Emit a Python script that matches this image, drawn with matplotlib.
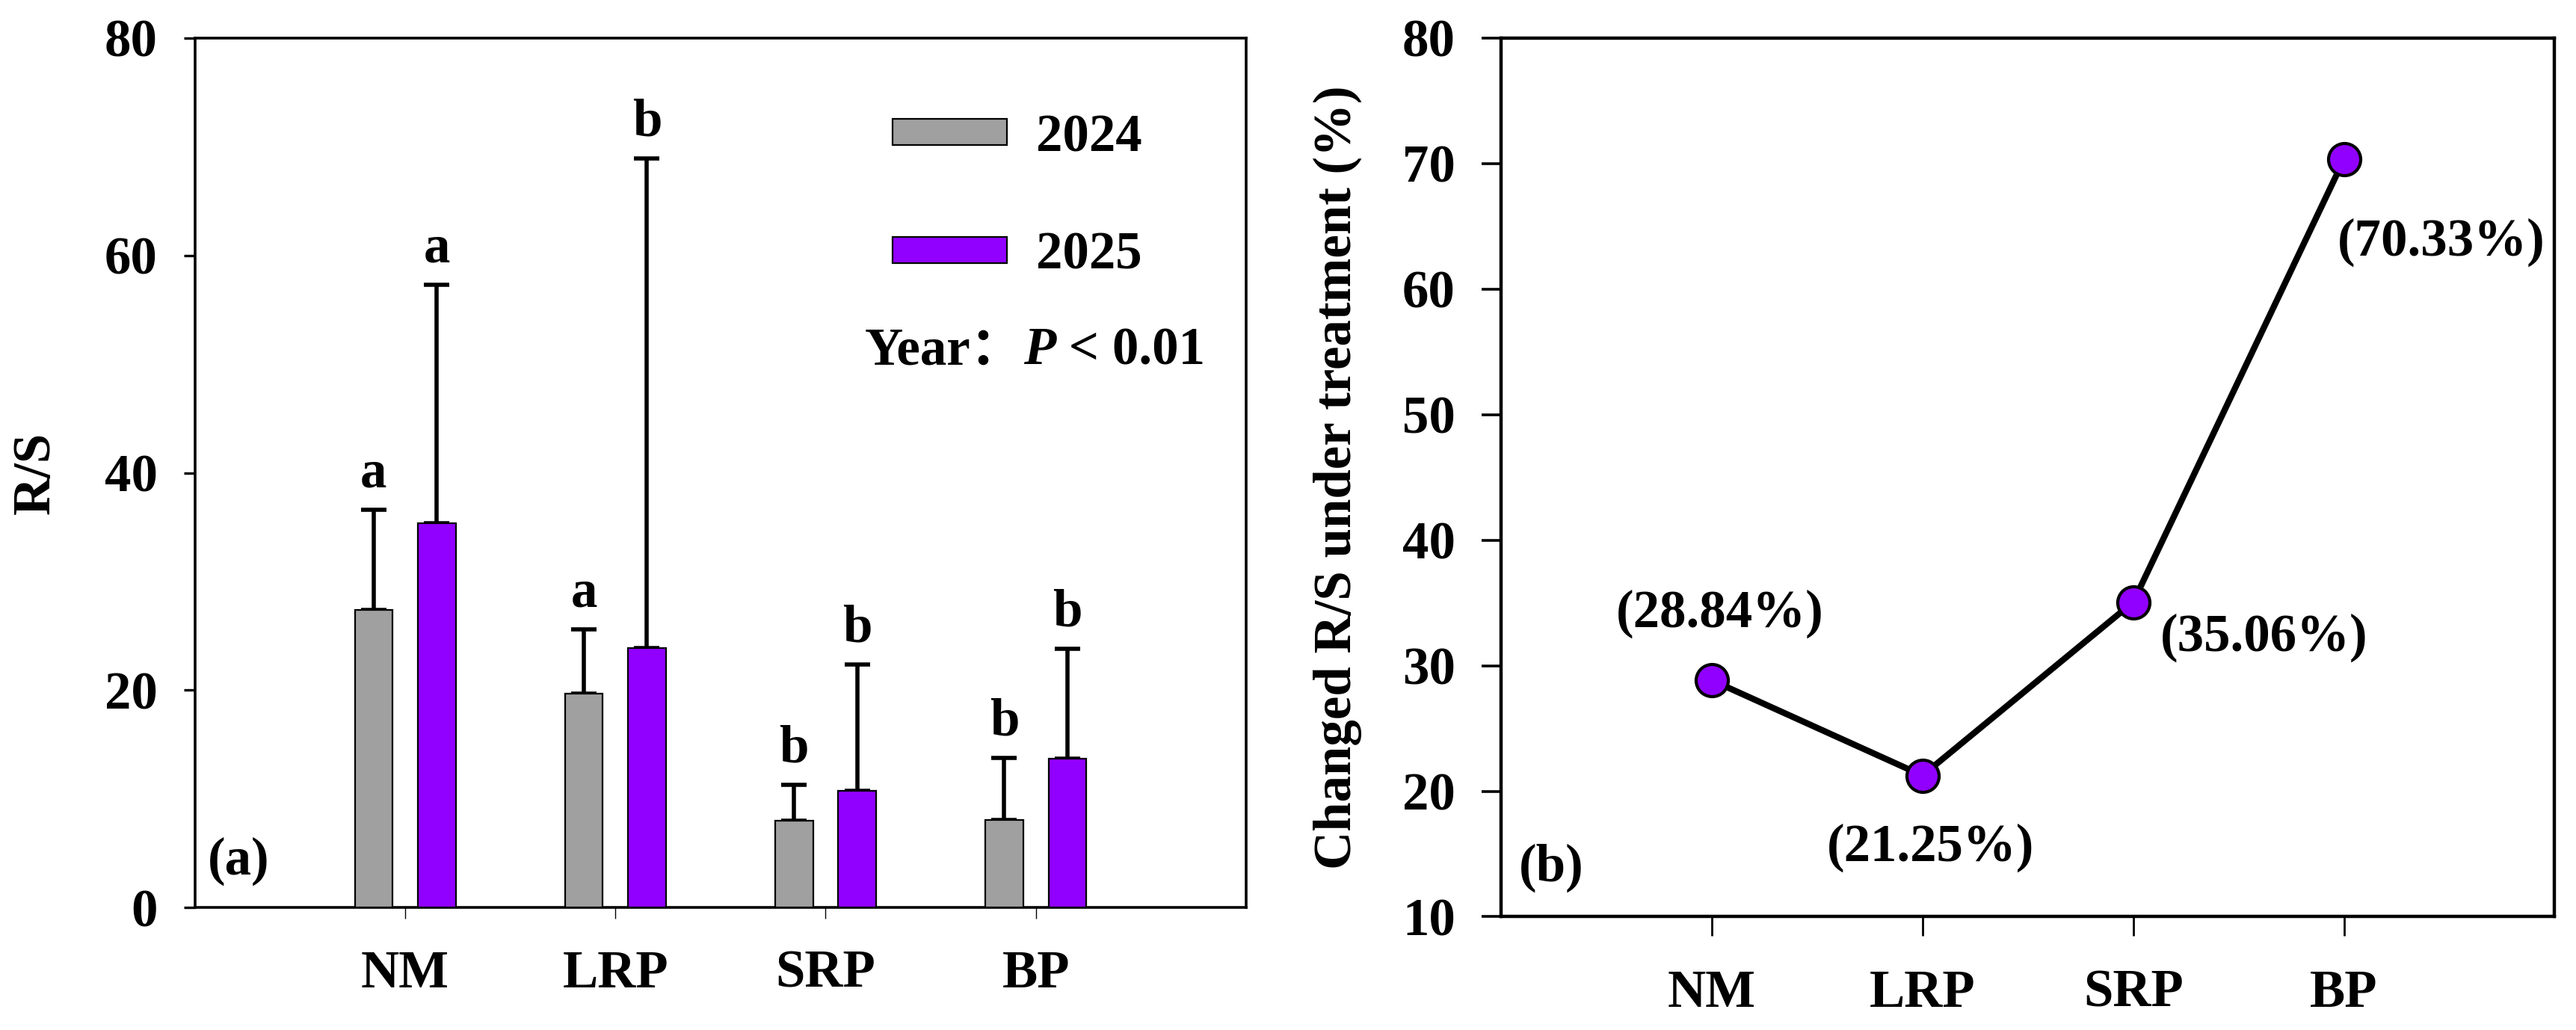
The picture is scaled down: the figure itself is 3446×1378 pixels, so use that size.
import numpy as np
import matplotlib
matplotlib.use("Agg")
import matplotlib.pyplot as plt

# data
treatments = ["NM", "LRP", "SRP", "BP"]
rs_2024 = [27.4, 19.7, 7.98, 8.04]
sd_2024 = [9.2, 5.9, 3.3, 5.7]
rs_2025 = [35.35, 23.9, 10.75, 13.7]
sd_2025 = [21.95, 45.0, 11.6, 10.1]
letters_2024 = ["a", "a", "b", "b"]
letters_2025 = ["a", "b", "b", "b"]
changed_rs = [28.84, 21.25, 35.06, 70.33]

plt.rcParams["font.family"] = ["Liberation Serif", "Noto Sans CJK SC"]
plt.rcParams["font.weight"] = "bold"
plt.rcParams["axes.labelweight"] = "bold"
plt.rcParams["font.size"] = 25.5

GRAY = "#A0A0A0"
PURPLE = "#9100FF"

fig = plt.figure(figsize=(17.23, 6.89), dpi=200)
ax1 = fig.add_axes([0.0757, 0.119, 0.408, 0.844])
ax2 = fig.add_axes([0.5827, 0.110, 0.409, 0.853])

# ---- (a) bar chart ----
x = np.arange(len(treatments))
w = 0.18
off = 0.15
b1 = ax1.bar(x - off, rs_2024, w, color=GRAY, edgecolor="black", linewidth=0.8,
             zorder=3, label="2024")
b2 = ax1.bar(x + off, rs_2025, w, color=PURPLE, edgecolor="black", linewidth=0.8,
             zorder=3, label="2025")
for xs, vals, sds in [(x - off, rs_2024, sd_2024), (x + off, rs_2025, sd_2025)]:
    ax1.errorbar(xs, vals, yerr=[np.zeros(len(vals)), sds], fmt="none",
                 ecolor="black", elinewidth=2.0, capsize=6, capthick=2.0, zorder=2)

for xs, vals, sds, labs in [(x - off, rs_2024, sd_2024, letters_2024),
                            (x + off, rs_2025, sd_2025, letters_2025)]:
    for xi, v, s, lab in zip(xs, vals, sds, labs):
        ax1.annotate(lab, (xi, v + s), xytext=(0, 11), textcoords="offset points",
                     ha="center", va="baseline")

ax1.set_xlim(-1, 4)
ax1.set_ylim(0, 80)
ax1.set_yticks([0, 20, 40, 60, 80])
ax1.set_xticks(x)
ax1.set_xticklabels(treatments)
ax1.tick_params(axis="y", direction="out", length=5.4, width=1.2, pad=12.6)
ax1.tick_params(axis="x", direction="out", length=5.4, width=0.5, pad=15)
ax1.set_ylabel("R/S")
ax1.yaxis.set_label_coords(-0.128, 0.5)
for sp in ax1.spines.values():
    sp.set_linewidth(1.3)

ax1.legend(handles=[b1, b2], loc="upper left", bbox_to_anchor=(0.664, 0.913),
           frameon=False, borderpad=0, borderaxespad=0, handlelength=2.15,
           handleheight=0.39, handletextpad=0.55, labelspacing=1.31)

t1 = ax1.text(2.185, 51.2, "Year：", ha="left", va="center")
t2 = ax1.annotate("P", xy=(1, 0), xycoords=t1, ha="left", va="bottom",
                  style="italic")
ax1.annotate(" < 0.01", xy=(1, 0), xycoords=t2, ha="left", va="bottom")
ax1.text(0.012, 0.025, "(a)", transform=ax1.transAxes, ha="left", va="bottom")

# ---- (b) line chart ----
ax2.plot(x, changed_rs, color="black", linewidth=3.0, marker="o", markersize=15.5,
         markerfacecolor=PURPLE, markeredgecolor="black", markeredgewidth=1.5,
         zorder=3)
label_offsets = [(4, 32), (4, -35), (63, -17), (47, -40)]
for xi, v, (dx, dy) in zip(x, changed_rs, label_offsets):
    ax2.annotate(f"({v:.2f}%)", (xi, v), xytext=(dx, dy), textcoords="offset points",
                 ha="center", va="center")

ax2.set_xlim(-1, 4)
ax2.set_ylim(10, 80)
ax2.set_yticks(range(10, 81, 10))
ax2.set_xticks(x)
ax2.set_xticklabels(treatments)
ax2.tick_params(axis="y", direction="out", length=9.4, width=1.3, pad=12.6)
ax2.tick_params(axis="x", direction="out", length=9.4, width=1.0, pad=16)
ax2.set_ylabel("Changed R/S under treatment (%)")
ax2.yaxis.set_label_coords(-0.132, 0.5)
for sp in ax2.spines.values():
    sp.set_linewidth(1.6)
ax2.text(0.017, 0.028, "(b)", transform=ax2.transAxes, ha="left", va="bottom")

fig.savefig("out.png", dpi=200)
